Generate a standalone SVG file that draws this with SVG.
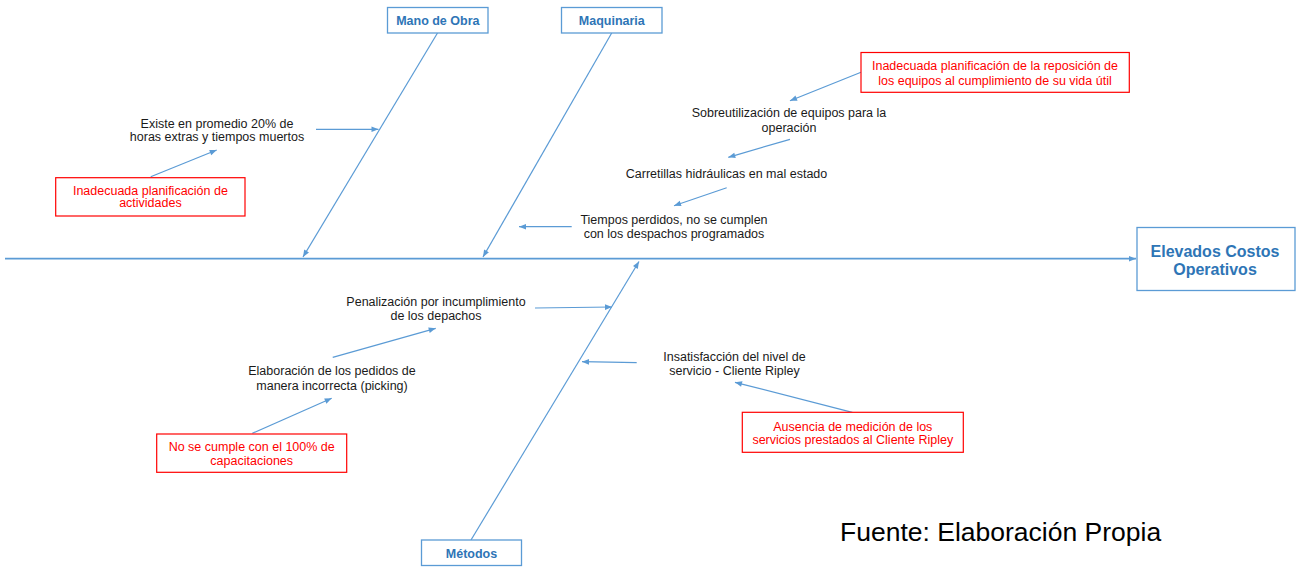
<svg xmlns="http://www.w3.org/2000/svg" width="1298" height="567" viewBox="0 0 1298 567">
<style>
.bg{fill:#ffffff}
.ln{stroke:#5B9BD5;stroke-width:1.2;fill:none;marker-end:url(#ah)}
.sp{stroke:#5B9BD5;stroke-width:1.8;fill:none;marker-end:url(#ah)}
.cat{fill:#ffffff;stroke:#5B9BD5;stroke-width:1.3}
.ct{font-family:"Liberation Sans",Arial,sans-serif;font-weight:bold;font-size:12.5px;fill:#2E75B6;text-anchor:middle}
.eff{font-family:"Liberation Sans",Arial,sans-serif;font-weight:bold;font-size:16px;fill:#2E75B6;text-anchor:middle}
.t{font-family:"Liberation Sans",Arial,sans-serif;font-size:12.5px;fill:#1a1a1a;text-anchor:middle}
.rb{fill:#ffffff;stroke:#FF0000;stroke-width:1.2}
.rt{font-family:"Liberation Sans",Arial,sans-serif;font-size:12.5px;fill:#FF0000;text-anchor:middle}
.src{font-family:"Liberation Sans",Arial,sans-serif;font-size:26.5px;fill:#000000}
</style>
<defs>
<marker id="ah" viewBox="0 0 10 10" refX="10" refY="5" markerWidth="8" markerHeight="7" markerUnits="userSpaceOnUse" orient="auto">
<path d="M0,1 L10,5 L0,9 z" fill="#5B9BD5"/>
</marker>
</defs>
<rect class="bg" x="0" y="0" width="1298" height="567"/>

<g id="connectors">
<line class="sp" x1="5" y1="258.7" x2="1136" y2="258.7"/>
<line class="ln" x1="437.5" y1="33" x2="303" y2="257"/>
<line class="ln" x1="611.7" y1="33" x2="483" y2="257"/>
<line class="ln" x1="471" y1="540" x2="639" y2="261.5"/>
<line class="ln" x1="316" y1="129.3" x2="378.5" y2="129.3"/>
<line class="ln" x1="150.7" y1="176.7" x2="216.7" y2="150"/>
<line class="ln" x1="861" y1="72.3" x2="790" y2="100.7"/>
<line class="ln" x1="790" y1="139.3" x2="728.3" y2="157.3"/>
<line class="ln" x1="726.7" y1="187.7" x2="674" y2="205.7"/>
<line class="ln" x1="571.7" y1="226.7" x2="519" y2="226.7"/>
<line class="ln" x1="535" y1="308" x2="612" y2="307"/>
<line class="ln" x1="332.7" y1="357.3" x2="435.7" y2="328.3"/>
<line class="ln" x1="252.3" y1="433.3" x2="331.7" y2="398.3"/>
<line class="ln" x1="636.7" y1="362.7" x2="582" y2="361.7"/>
<line class="ln" x1="852.3" y1="412.3" x2="735" y2="382.3"/>
</g>

<g id="effect">
<rect class="cat" x="1137" y="227.5" width="158" height="63"/>
<text class="eff" x="1215" y="257.4">Elevados Costos</text>
<text class="eff" x="1215" y="274.7">Operativos</text>
</g>

<g id="cat-mano">
<rect class="cat" x="387.5" y="7.5" width="100.5" height="25.5"/>
<text class="ct" x="437.8" y="24.5">Mano de Obra</text>
</g>
<g id="cat-maquinaria">
<rect class="cat" x="561.5" y="7.5" width="100.5" height="25.5"/>
<text class="ct" x="611.8" y="24.5">Maquinaria</text>
</g>
<g id="cat-metodos">
<rect class="cat" x="421.5" y="540" width="100" height="25.5"/>
<text class="ct" x="471.5" y="558">Métodos</text>
</g>

<g id="c-existe">
<text class="t" x="217" y="127.8">Existe en promedio 20% de</text>
<text class="t" x="217" y="141.2">horas extras y tiempos muertos</text>
</g>
<g id="r-actividades">
<rect class="rb" x="55.7" y="177.7" width="189.3" height="38.3"/>
<text class="rt" x="150.4" y="194.5">Inadecuada planificación de</text>
<text class="rt" x="150.4" y="206.8">actividades</text>
</g>
<g id="r-reposicion">
<rect class="rb" x="861" y="52.5" width="268.3" height="39.8"/>
<text class="rt" x="995" y="69.5">Inadecuada planificación de la reposición de</text>
<text class="rt" x="995" y="84.5">los equipos al cumplimiento de su vida útil</text>
</g>
<g id="c-sobre">
<text class="t" x="789" y="117.2">Sobreutilización de equipos para la</text>
<text class="t" x="789" y="131.5">operación</text>
</g>
<g id="c-carretillas">
<text class="t" x="726.5" y="177.8">Carretillas hidráulicas en mal estado</text>
</g>
<g id="c-tiempos">
<text class="t" x="674" y="223.5">Tiempos perdidos, no se cumplen</text>
<text class="t" x="674" y="237.8">con los despachos programados</text>
</g>
<g id="c-penalizacion">
<text class="t" x="436" y="305.5">Penalización por incumplimiento</text>
<text class="t" x="436" y="320.2">de los depachos</text>
</g>
<g id="c-elaboracion">
<text class="t" x="332" y="375.2">Elaboración de los pedidos de</text>
<text class="t" x="332" y="390.2">manera incorrecta (picking)</text>
</g>
<g id="r-capacitaciones">
<rect class="rb" x="156.7" y="434" width="190" height="38.3"/>
<text class="rt" x="251.7" y="451.2">No se cumple con el 100% de</text>
<text class="rt" x="251.7" y="465.2">capacitaciones</text>
</g>
<g id="c-insatisfaccion">
<text class="t" x="734.5" y="360.5">Insatisfacción del nivel de</text>
<text class="t" x="734.5" y="375.2">servicio - Cliente Ripley</text>
</g>
<g id="r-ausencia">
<rect class="rb" x="742.3" y="412.3" width="221" height="40"/>
<text class="rt" x="852.8" y="431.2">Ausencia de medición de los</text>
<text class="rt" x="852.8" y="443.5">servicios prestados al Cliente Ripley</text>
</g>

<text class="src" x="840" y="541">Fuente: Elaboración Propia</text>
</svg>
